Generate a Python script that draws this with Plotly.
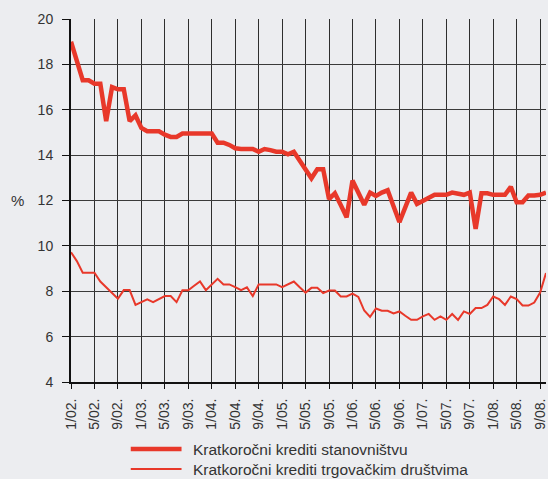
import plotly.graph_objects as go

# Monthly observations, January 2002 – October 2008
years = list(range(2002, 2009))
months = [f"{m}/{y % 100:02d}." for y in years for m in range(1, 13)][:82]

# Short-term loans to households (%)
stanovnistvo = [
    19.0, 18.1, 17.3, 17.3, 17.15, 17.15, 15.5, 17.0, 16.9, 16.9,
    15.5, 15.75, 15.2, 15.05, 15.05, 15.05, 14.9, 14.8, 14.8, 14.95,
    14.95, 14.95, 14.95, 14.95, 14.95, 14.55, 14.55, 14.45, 14.3, 14.27,
    14.27, 14.27, 14.15, 14.27, 14.22, 14.15, 14.15, 14.04, 14.15, 13.75,
    13.35, 12.98, 13.38, 13.38, 12.06, 12.32, 11.8, 11.26, 12.88, 12.35,
    11.81, 12.35, 12.2, 12.35, 12.45, 11.75, 11.05, 11.7, 12.35, 11.85,
    11.98, 12.1, 12.25, 12.25, 12.25, 12.35, 12.3, 12.25, 12.35, 10.75,
    12.32, 12.32, 12.25, 12.25, 12.25, 12.6, 11.92, 11.92, 12.22, 12.22,
    12.25, 12.35,
]

# Short-term loans to enterprises (%)
drustva = [
    9.72, 9.33, 8.82, 8.82, 8.82, 8.43, 8.18, 7.92, 7.67, 8.05,
    8.05, 7.4, 7.52, 7.64, 7.52, 7.65, 7.79, 7.79, 7.52, 8.04,
    8.04, 8.24, 8.43, 8.05, 8.3, 8.55, 8.3, 8.3, 8.18, 8.05,
    8.17, 7.79, 8.3, 8.3, 8.3, 8.3, 8.18, 8.3, 8.43, 8.18,
    7.94, 8.15, 8.15, 7.92, 8.03, 8.03, 7.77, 7.77, 7.9, 7.75,
    7.15, 6.87, 7.24, 7.14, 7.14, 7.02, 7.11, 6.92, 6.74, 6.74,
    6.89, 7.0, 6.74, 6.89, 6.74, 7.0, 6.74, 7.11, 7.0, 7.26,
    7.26, 7.4, 7.77, 7.65, 7.4, 7.77, 7.65, 7.37, 7.37, 7.5,
    7.94, 8.8,
]

tick_labels = months[::4]
y_ticks = list(range(4, 21, 2))

names = ["Kratkoročni krediti stanovništvu", "Kratkoročni krediti trgovačkim društvima"]
red = "#e8382a"
bg = "#ecedf0"
ink = "#333333"
font = "Liberation Sans, Arial, sans-serif"

fig = go.Figure()
fig.add_trace(go.Scatter(x=months, y=drustva, mode="lines", name=names[1],
                         line=dict(color=red, width=2), showlegend=False))
fig.add_trace(go.Scatter(x=months, y=stanovnistvo, mode="lines", name=names[0],
                         line=dict(color=red, width=4.5), showlegend=False))

fig.update_layout(
    width=548, height=479,
    margin=dict(l=71, r=0, t=19, b=97),
    paper_bgcolor=bg, plot_bgcolor=bg,
    font=dict(family=font, size=13, color=ink),
)
fig.update_xaxes(
    type="category", categoryorder="array", categoryarray=months,
    range=[0, len(months) - 1],
    tickmode="array", tickvals=tick_labels, ticktext=tick_labels,
    tickangle=-90, tickfont=dict(size=14),
    showgrid=True, gridcolor="#2e2e2e", gridwidth=1,
    showline=True, linecolor="#111111", linewidth=2,
    ticks="outside", ticklen=5, tickcolor="#111111", tickwidth=1,
    ticklabelstandoff=4, zeroline=False,
)
fig.update_yaxes(
    range=[4, 20], tickmode="array", tickvals=y_ticks,
    tickfont=dict(size=14),
    showgrid=True, gridcolor="#3a3a3a", gridwidth=1,
    showline=True, linecolor="#111111", linewidth=2,
    ticks="outside", ticklen=7, tickcolor="#111111", tickwidth=1,
    ticklabelstandoff=6, zeroline=False,
)

# Axis title
fig.add_annotation(text="%", xref="paper", yref="paper", x=-0.131, y=0.5,
                   showarrow=False, font=dict(size=15, color=ink))

# Legend drawn below the plot
for k, (name, w) in enumerate(zip(names, [4.5, 2])):
    yy = -0.1846 - k * 0.0551
    fig.add_shape(type="line", xref="paper", yref="paper",
                  x0=0.1258, x1=0.2327, y0=yy, y1=yy,
                  line=dict(color=red, width=w))
    fig.add_annotation(text=name, xref="paper", yref="paper", x=0.253, y=yy,
                       xanchor="left", yanchor="middle", showarrow=False,
                       font=dict(size=15.5, color=ink))

fig.write_html("out.html")
